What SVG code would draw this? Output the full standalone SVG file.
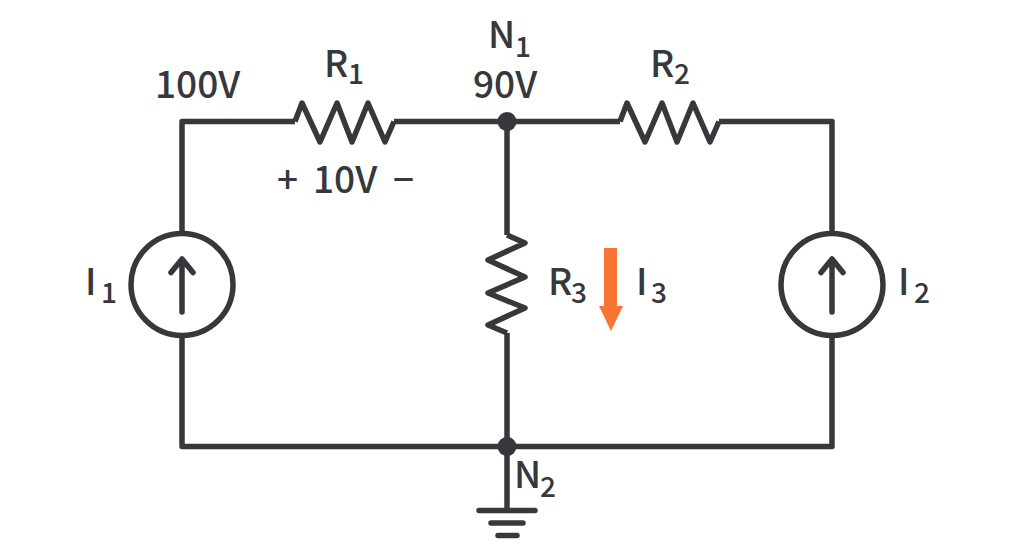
<svg xmlns="http://www.w3.org/2000/svg" width="1024" height="557" viewBox="0 0 1024 557">
<style>
.w{fill:none;stroke:#36383c;stroke-width:5.500;stroke-linejoin:round;stroke-linecap:butt}
.r{stroke-linecap:round}
.d{fill:#36383c}
text{font-family:"Noto Sans CJK SC","DejaVu Sans",sans-serif;font-size:37px;font-weight:500;fill:#36383c}
.s{font-size:28px}
</style>
<rect width="1024" height="557" fill="#fff"/>
<g id="connectors">
<path class="w" d="M295 121.500H182V233M182 336V446.500H832V336M832 233V121.500H719M394 121.500H620M507 121.500V235M507 333V510"/>
</g>
<g id="R1"><path class="w" d="M295 121.500L302 103L320 142L337 103L352 142L368 103L385 142L394 121.500"/><text x="324" y="77">R<tspan class="s" x="348" y="84">1</tspan></text></g>
<g id="R2"><path class="w" d="M620 121.500L627 103L645 142L662 103L677 142L693 103L710 142L719 121.500"/><text x="650" y="77">R<tspan class="s" x="674" y="84">2</tspan></text></g>
<g id="R3"><path class="w" d="M507 235L525 243L488 260L525 277L488 293L525 308L488 325L507 333"/><text x="548" y="295">R<tspan class="s" x="571" y="303">3</tspan></text></g>
<g id="I1"><circle class="w" cx="182" cy="284.500" r="51"/><path class="w r" d="M182 312V259M171 272.500L182 259L193 272.500"/><text x="85" y="295">I<tspan class="s" x="101" y="303">1</tspan></text></g>
<g id="I2"><circle class="w" cx="832" cy="284.500" r="51"/><path class="w r" d="M832 312V259M821 272.500L832 259L843 272.500"/><text x="898" y="295">I<tspan class="s" x="914" y="303">2</tspan></text></g>
<g id="I3"><path fill="#f97531" d="M604 248H617V306H623L611 331L599 306H604Z"/><text x="636" y="295">I<tspan class="s" x="651" y="303">3</tspan></text></g>
<g id="N1"><circle class="d" cx="507" cy="121.500" r="9.500"/><text x="488" y="48">N<tspan class="s" x="515" y="57">1</tspan></text><text x="473" y="98">90V</text></g>
<g id="N2"><circle class="d" cx="507" cy="446.500" r="9.500"/><text x="514" y="488">N<tspan class="s" x="540" y="497">2</tspan></text></g>
<g id="V100"><text x="155" y="98">100V</text></g>
<g id="VR1"><text x="277" y="193">+</text><text x="313" y="193">10V</text><text x="393" y="193">−</text></g>
<g id="ground"><path class="w r" d="M479 510.500H535M491 523H523M498 535.500H517"/></g>
</svg>
